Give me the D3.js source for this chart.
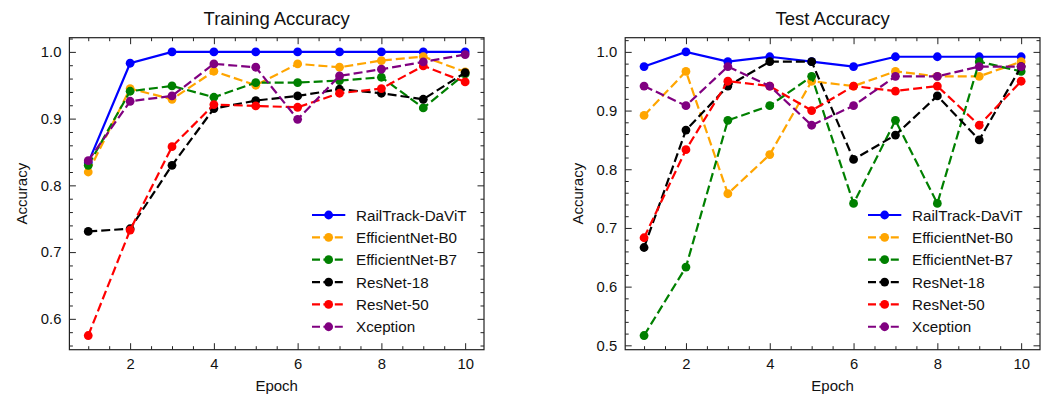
<!DOCTYPE html>
<html>
<head>
<meta charset="utf-8">
<script src="https://cdn.jsdelivr.net/npm/d3@7/dist/d3.min.js"></script>
<style>
  html, body { margin: 0; padding: 0; background: #fff; }
  svg { display: block; font-family: "Liberation Sans", Arial, Helvetica, sans-serif; }
</style>
</head>
<body>
<svg id="chart" width="1053" height="401"></svg>
<script>
// Epochs and model names
const epochs = [1, 2, 3, 4, 5, 6, 7, 8, 9, 10];
const models = ["RailTrack-DaViT", "EfficientNet-B0", "EfficientNet-B7", "ResNet-18", "ResNet-50", "Xception"];
const modelColors = ["#0000ff", "#ffa500", "#008000", "#000000", "#ff0000", "#800080"];
const modelDashed = [false, true, true, true, true, true];

// Training accuracy per epoch
const trainDaViT     = [0.834, 0.983, 1.000, 1.000, 1.000, 1.000, 1.000, 1.000, 1.000, 1.000];
const trainEffB0     = [0.820, 0.945, 0.929, 0.971, 0.950, 0.982, 0.977, 0.987, 0.993, 0.970];
const trainEffB7     = [0.830, 0.941, 0.949, 0.932, 0.954, 0.954, 0.957, 0.962, 0.916, 0.967];
const trainResNet18  = [0.731, 0.735, 0.830, 0.915, 0.927, 0.934, 0.944, 0.938, 0.929, 0.969];
const trainResNet50  = [0.575, 0.733, 0.858, 0.921, 0.919, 0.917, 0.938, 0.945, 0.979, 0.955];
const trainXception  = [0.837, 0.926, 0.934, 0.982, 0.977, 0.899, 0.964, 0.974, 0.985, 0.996];

// Test accuracy per epoch
const testDaViT      = [0.9750, 1.0000, 0.9833, 0.9917, 0.9833, 0.9750, 0.9917, 0.9917, 0.9917, 0.9917];
const testEffB0      = [0.8917, 0.9667, 0.7583, 0.8250, 0.9500, 0.9417, 0.9667, 0.9583, 0.9583, 0.9833];
const testEffB7      = [0.5167, 0.6333, 0.8833, 0.9083, 0.9583, 0.7417, 0.8833, 0.7417, 0.9833, 0.9667];
const testResNet18   = [0.6667, 0.8667, 0.9417, 0.9833, 0.9833, 0.8167, 0.8583, 0.9250, 0.8500, 0.9750];
const testResNet50   = [0.6833, 0.8333, 0.9500, 0.9417, 0.9000, 0.9417, 0.9333, 0.9417, 0.8750, 0.9500];
const testXception   = [0.9417, 0.9083, 0.9750, 0.9417, 0.8750, 0.9083, 0.9583, 0.9583, 0.9750, 0.9750];

// Tick labels
const xTicks = [2, 4, 6, 8, 10];
const trainYTicks = [0.6, 0.7, 0.8, 0.9, 1.0];
const testYTicks = [0.5, 0.6, 0.7, 0.8, 0.9, 1.0];

const panels = [
  { title: "Training Accuracy", series: [trainDaViT, trainEffB0, trainEffB7, trainResNet18, trainResNet50, trainXception],
    yTicks: trainYTicks, x0: 69.4, x1: 484 },
  { title: "Test Accuracy", series: [testDaViT, testEffB0, testEffB7, testResNet18, testResNet50, testXception],
    yTicks: testYTicks, x0: 625.2, x1: 1040 }
];

const svg = d3.select("#chart");
const plotTop = 37.7, plotBottom = 349.7;
const axisColor = "#222";

function range(a, b, step) {
  const out = [];
  const n = Math.round((b - a) / step);
  for (let i = 0; i <= n; i++) out.push(+(a + i * step).toFixed(4));
  return out;
}

panels.forEach(p => {
  const g = svg.append("g");

  // Domains padded by 5% of the data span on each side
  const xPad = (d3.max(epochs) - d3.min(epochs)) * 0.05;
  const allVals = p.series.flat();
  const yMin = d3.min(allVals), yMax = d3.max(allVals);
  const yPad = (yMax - yMin) * 0.05;

  const x = d3.scaleLinear().domain([d3.min(epochs) - xPad, d3.max(epochs) + xPad]).range([p.x0, p.x1]);
  const y = d3.scaleLinear().domain([yMin - yPad, yMax + yPad]).range([plotBottom, plotTop]);

  const xMinor = range(0.5, 10.5, 0.5).filter(v => v >= x.domain()[0] && v <= x.domain()[1] && !xTicks.includes(v));
  const yMinor = range(0.4, 1.1, 0.02).filter(v => v >= y.domain()[0] && v <= y.domain()[1] &&
    !p.yTicks.some(t => Math.abs(t - v) < 1e-6));

  const styleAxis = sel => {
    sel.select(".domain").remove();
    sel.selectAll(".tick line").attr("stroke", axisColor).attr("stroke-width", 1);
    sel.selectAll(".tick text").attr("fill", "#111").style("font-size", "14.8px")
      .style("font-family", "'Liberation Sans', Arial, Helvetica, sans-serif");
  };

  // Bottom axis (labelled) and top axis, ticks pointing inward
  g.append("g").attr("transform", `translate(0,${plotBottom})`)
    .call(d3.axisBottom(x).tickValues(xTicks).tickSize(-6.5).tickPadding(9).tickFormat(d3.format("d")))
    .call(styleAxis);
  g.append("g").attr("transform", `translate(0,${plotBottom})`)
    .call(d3.axisBottom(x).tickValues(xMinor).tickSize(-3.5).tickFormat(""))
    .call(styleAxis);
  g.append("g").attr("transform", `translate(0,${plotTop})`)
    .call(d3.axisTop(x).tickValues(xTicks).tickSize(-6.5).tickFormat(""))
    .call(styleAxis);
  g.append("g").attr("transform", `translate(0,${plotTop})`)
    .call(d3.axisTop(x).tickValues(xMinor).tickSize(-3.5).tickFormat(""))
    .call(styleAxis);

  // Left axis (labelled) and right axis
  g.append("g").attr("transform", `translate(${p.x0},0)`)
    .call(d3.axisLeft(y).tickValues(p.yTicks).tickSize(-6.5).tickPadding(8).tickFormat(d3.format(".1f")))
    .call(styleAxis);
  g.append("g").attr("transform", `translate(${p.x0},0)`)
    .call(d3.axisLeft(y).tickValues(yMinor).tickSize(-3.5).tickFormat(""))
    .call(styleAxis);
  g.append("g").attr("transform", `translate(${p.x1},0)`)
    .call(d3.axisRight(y).tickValues(p.yTicks).tickSize(-6.5).tickFormat(""))
    .call(styleAxis);
  g.append("g").attr("transform", `translate(${p.x1},0)`)
    .call(d3.axisRight(y).tickValues(yMinor).tickSize(-3.5).tickFormat(""))
    .call(styleAxis);

  // Frame
  g.append("rect").attr("x", p.x0).attr("y", plotTop).attr("width", p.x1 - p.x0).attr("height", plotBottom - plotTop)
    .attr("fill", "none").attr("stroke", axisColor).attr("stroke-width", 1.2);

  // Title and axis labels
  g.append("text").attr("x", (p.x0 + p.x1) / 2).attr("y", 25).attr("text-anchor", "middle")
    .style("font-size", "18.5px").attr("fill", "#111").text(p.title);
  g.append("text").attr("x", (p.x0 + p.x1) / 2).attr("y", 391).attr("text-anchor", "middle")
    .style("font-size", "15px").attr("fill", "#111").text("Epoch");
  g.append("text").attr("transform", `translate(${p.x0 - 47.5},${(plotTop + plotBottom) / 2}) rotate(-90)`)
    .attr("text-anchor", "middle").attr("dominant-baseline", "central")
    .style("font-size", "15px").attr("fill", "#111").text("Accuracy");

  // Series: line then markers, in model order
  const line = d3.line().x((d, i) => x(epochs[i])).y(d => y(d));
  p.series.forEach((vals, k) => {
    const s = g.append("g");
    s.append("path").datum(vals).attr("d", line).attr("fill", "none")
      .attr("stroke", modelColors[k]).attr("stroke-width", 2.2)
      .attr("stroke-dasharray", modelDashed[k] ? "9,4" : null);
    s.selectAll("circle").data(vals).join("circle")
      .attr("cx", (d, i) => x(epochs[i])).attr("cy", d => y(d)).attr("r", 4.4)
      .attr("fill", modelColors[k]);
  });

  // Legend
  const lg = g.append("g");
  const lx = p.x1 - 172, lLen = 33.3, rowY0 = plotBottom - 134.7, rowGap = 22.35;
  models.forEach((name, k) => {
    const ry = rowY0 + k * rowGap;
    lg.append("line").attr("x1", lx).attr("x2", lx + lLen).attr("y1", ry).attr("y2", ry)
      .attr("stroke", modelColors[k]).attr("stroke-width", 2.2)
      .attr("stroke-dasharray", modelDashed[k] ? "8,3.4" : null);
    lg.append("circle").attr("cx", lx + lLen / 2).attr("cy", ry).attr("r", 4.4).attr("fill", modelColors[k]);
    lg.append("text").attr("x", p.x1 - 128).attr("y", ry).attr("dominant-baseline", "central")
      .style("font-size", "15.2px").attr("fill", "#111").text(name);
  });
});
</script>
</body>
</html>
